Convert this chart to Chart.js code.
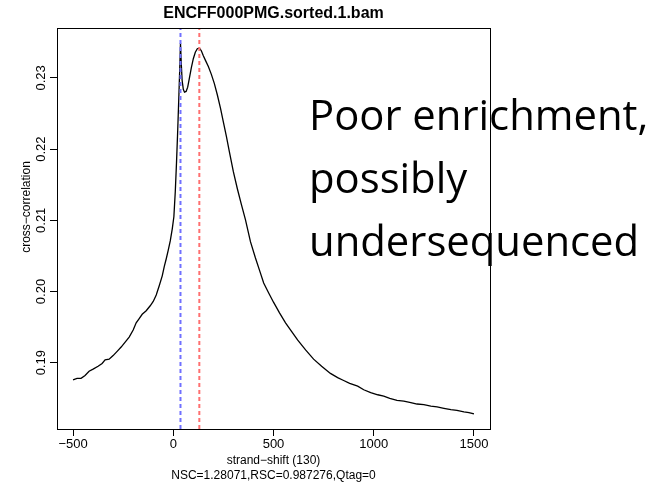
<!DOCTYPE html>
<html>
<head>
<meta charset="utf-8">
<script src="https://cdn.jsdelivr.net/npm/chart.js@4.4.0/dist/chart.umd.min.js"></script>
<style>
  html, body { margin: 0; padding: 0; background: #fff; }
  #wrap { width: 667px; height: 488px; }
</style>
</head>
<body>
<div id="wrap"><canvas id="ccChart" width="667" height="488"></canvas></div>
<script>
// strand shift (x) and cross-correlation (y)
const shifts = [-500, -480, -460, -440, -420, -400, -375, -355, -340, -320, -300, -280, -260, -240, -220,
    -200, -185, -170, -155, -135, -115, -100, -85, -70, -55, -45, -35, -25, -15, -5, 3, 10, 16, 22, 28,
    32, 36, 40, 44, 50, 56, 64, 72, 80, 90, 100, 110, 120, 130, 140, 150, 160, 175, 190, 205, 220, 236,
    250, 265, 280, 300, 320, 340, 360, 385, 410, 430, 451, 476, 500, 530, 560, 590, 620, 660, 700, 740,
    784, 820, 850, 880, 920, 950, 985, 1020, 1050, 1080, 1116, 1150, 1185, 1216, 1250, 1285, 1316, 1350,
    1385, 1415, 1450, 1475, 1500];
const ccValues = [0.1876, 0.1878, 0.1878, 0.1882, 0.1888, 0.1891, 0.1895, 0.1899, 0.1904, 0.1905, 0.1910,
    0.1916, 0.1922, 0.1929, 0.1936, 0.1946, 0.1956, 0.1962, 0.1968, 0.1973, 0.1980, 0.1986, 0.1995, 0.2008,
    0.2022, 0.2035, 0.2046, 0.2058, 0.2071, 0.2088, 0.2105, 0.2140, 0.2180, 0.2225, 0.2275, 0.2310, 0.2349,
    0.2320, 0.2297, 0.2284, 0.2280, 0.2281, 0.2287, 0.2299, 0.2314, 0.2327, 0.2336, 0.2341, 0.2342, 0.2338,
    0.2331, 0.2325, 0.2316, 0.2305, 0.2292, 0.2276, 0.2257, 0.2238, 0.2218, 0.2196, 0.2168, 0.2144, 0.2122,
    0.2101, 0.2070, 0.2047, 0.2030, 0.2012, 0.1998, 0.1985, 0.1970, 0.1956, 0.1944, 0.1932, 0.1918, 0.1905,
    0.1895, 0.1885, 0.1879, 0.1875, 0.1871, 0.1867, 0.1862, 0.1858, 0.1855, 0.1853, 0.1850, 0.1847, 0.1846,
    0.1844, 0.1842, 0.1841, 0.1839, 0.1838, 0.1836, 0.1834, 0.1833, 0.1831, 0.1830, 0.1828];

const xTicks = [-500, 0, 500, 1000, 1500];
const yTicks = [0.19, 0.20, 0.21, 0.22, 0.23];
const readLengthShift = 36;   // blue line
const fragmentShift = 130;    // red line
const xRange = [-580, 1580];
const yRange = [0.18069, 0.23701];

const titleText = 'ENCFF000PMG.sorted.1.bam';
const xTitle = 'strand\u2212shift (130)';
const xSubTitle = 'NSC=1.28071,RSC=0.987276,Qtag=0';
const yTitle = 'cross\u2212correlation';
const noteLines = ['Poor enrichment,', 'possibly', 'undersequenced'];

const axisFont = '13px "Liberation Sans", Arial, sans-serif';

// R style box, rotated y labels, titles and the slide note
const rDecor = {
    id: 'rDecor',
    afterDraw(chart) {
        const ctx = chart.ctx;
        const area = chart.chartArea;
        const yScale = chart.scales.y;
        ctx.save();
        ctx.strokeStyle = '#000';
        ctx.lineWidth = 1;
        ctx.strokeRect(Math.round(area.left) + 0.5, Math.round(area.top) + 0.5,
            Math.round(area.right - area.left), Math.round(area.bottom - area.top));

        ctx.fillStyle = '#000';
        ctx.font = axisFont;
        ctx.textAlign = 'center';
        ctx.textBaseline = 'alphabetic';
        yTicks.forEach(v => {
            const py = yScale.getPixelForValue(v);
            ctx.save();
            ctx.translate(45, py);
            ctx.rotate(-Math.PI / 2);
            ctx.fillText(v.toFixed(2), 0, 0);
            ctx.restore();
        });

        ctx.font = '12px "Liberation Sans", Arial, sans-serif';
        ctx.save();
        ctx.translate(30, 207);
        ctx.rotate(-Math.PI / 2);
        ctx.fillText(yTitle, 0, 0);
        ctx.restore();

        const cx = (area.left + area.right) / 2;
        ctx.fillText(xTitle, cx, 464);
        ctx.fillText(xSubTitle, cx, 479);

        ctx.font = 'bold 16px "Liberation Sans", Arial, sans-serif';
        ctx.fillText(titleText, cx, 18);

        // size the note so the first line spans the same width as on the slide
        ctx.font = '40px "Open Sans", sans-serif';
        const size = 40 * 339 / ctx.measureText(noteLines[0]).width;
        ctx.font = size.toFixed(1) + 'px "Open Sans", sans-serif';
        ctx.textAlign = 'left';
        const baselines = [130, 193, 256];
        noteLines.forEach((line, i) => ctx.fillText(line, 309, baselines[i]));
        ctx.restore();
    }
};

const vLine = (x, color) => ({
    data: [{ x: x, y: yRange[0] }, { x: x, y: yRange[1] }],
    borderColor: color,
    borderWidth: 2,
    borderDash: [4, 3],
    pointRadius: 0,
    order: 0
});

new Chart(document.getElementById('ccChart'), {
    type: 'line',
    data: {
        datasets: [
            vLine(readLengthShift, '#7070ff'),
            vLine(fragmentShift, '#ff7070'),
            {
                data: shifts.map((s, i) => ({ x: s, y: ccValues[i] })),
                borderColor: '#000',
                borderWidth: 1.3,
                pointRadius: 0,
                tension: 0,
                order: 1
            }
        ]
    },
    options: {
        responsive: false,
        devicePixelRatio: 1,
        animation: false,
        layout: { padding: { left: 0, right: 177, top: 28, bottom: 0 } },
        plugins: { legend: { display: false }, tooltip: { enabled: false }, title: { display: false } },
        scales: {
            x: {
                type: 'linear',
                min: xRange[0],
                max: xRange[1],
                afterBuildTicks: s => { s.ticks = xTicks.map(v => ({ value: v })); },
                afterFit: s => { s.height = 59; },
                grid: { drawOnChartArea: false, drawTicks: true, tickLength: 7, color: '#000' },
                border: { display: false },
                ticks: {
                    color: '#000',
                    font: { family: '"Liberation Sans", Arial, sans-serif', size: 13 },
                    padding: 1,
                    maxRotation: 0,
                    callback: v => (v < 0 ? '\u2212' + Math.abs(v) : String(v))
                }
            },
            y: {
                type: 'linear',
                min: yRange[0],
                max: yRange[1],
                afterBuildTicks: s => { s.ticks = yTicks.map(v => ({ value: v })); },
                afterFit: s => { s.width = 57; },
                grid: { drawOnChartArea: false, drawTicks: true, tickLength: 7, color: '#000' },
                border: { display: false },
                ticks: { display: false }
            }
        }
    },
    plugins: [rDecor]
});
</script>
</body>
</html>
